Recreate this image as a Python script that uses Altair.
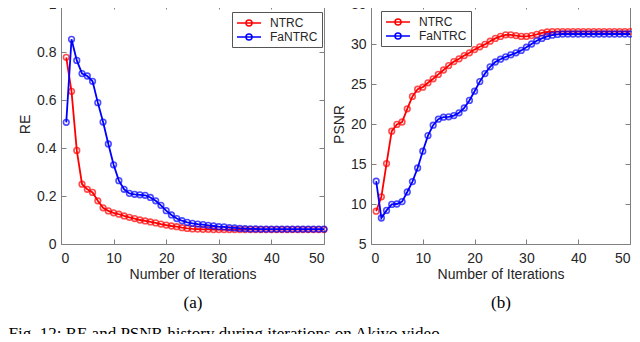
import altair as alt
import pandas as pd

# ---------------- data ----------------
iterations = list(range(1, 51))
methods = ["NTRC", "FaNTRC"]
colors = ["#ff0000", "#0000ff"]

re_ntrc = [0.778, 0.636, 0.390, 0.249, 0.228, 0.215, 0.180, 0.151, 0.138, 0.130,
           0.124, 0.117, 0.111, 0.106, 0.100, 0.096, 0.092, 0.088, 0.083, 0.079,
           0.075, 0.072, 0.068, 0.065, 0.063, 0.062, 0.061, 0.061, 0.060, 0.060,
           0.060, 0.060, 0.060, 0.060, 0.060, 0.060, 0.060, 0.060, 0.060, 0.060,
           0.060, 0.060, 0.060, 0.060, 0.060, 0.060, 0.060, 0.060, 0.060, 0.060]
re_fantrc = [0.507, 0.853, 0.765, 0.710, 0.700, 0.678, 0.589, 0.508, 0.417, 0.330,
             0.264, 0.228, 0.211, 0.207, 0.205, 0.203, 0.194, 0.180, 0.161, 0.139,
             0.121, 0.106, 0.097, 0.090, 0.086, 0.083, 0.081, 0.078, 0.075, 0.072,
             0.071, 0.068, 0.067, 0.065, 0.064, 0.063, 0.063, 0.062, 0.062, 0.062,
             0.062, 0.062, 0.062, 0.062, 0.062, 0.062, 0.062, 0.062, 0.062, 0.062]
psnr_ntrc = [9.10, 10.90, 15.05, 19.10, 19.95, 20.25, 21.90, 23.45, 24.35, 24.60,
             25.15, 25.65, 26.20, 26.75, 27.30, 27.80, 28.15, 28.55, 28.90, 29.30,
             29.65, 29.95, 30.35, 30.70, 30.95, 31.15, 31.15, 31.05, 30.95, 30.95,
             31.05, 31.20, 31.40, 31.50, 31.55, 31.55, 31.55, 31.55, 31.55, 31.55,
             31.55, 31.55, 31.55, 31.55, 31.55, 31.55, 31.55, 31.55, 31.55, 31.55]
psnr_fantrc = [12.85, 8.25, 9.20, 9.95, 10.00, 10.30, 11.50, 12.80, 14.50, 16.60,
               18.55, 19.85, 20.60, 20.85, 20.90, 21.05, 21.40, 22.00, 22.95, 24.10,
               25.30, 26.30, 27.15, 27.75, 28.10, 28.40, 28.65, 28.90, 29.20, 29.60,
               30.00, 30.40, 30.70, 30.95, 31.10, 31.20, 31.25, 31.25, 31.25, 31.25,
               31.25, 31.25, 31.25, 31.25, 31.25, 31.25, 31.25, 31.25, 31.25, 31.25]

x_ticks = [0, 10, 20, 30, 40, 50]
re_ticks = [0, 0.2, 0.4, 0.6, 0.8, 1]
psnr_ticks = [5, 10, 15, 20, 25, 30, 35]

x_title = "Number of Iterations"
fig_caption = "Fig. 12:  RE and PSNR history during iterations on Akiyo video."

# ---------------- style / layout ----------------
FONT = "Liberation Sans"
SERIF = "Liberation Serif"
TOTAL_W, TOTAL_H = 624, 330
PAD_TOP = -4
PH = 240                      # plot height of each panel
AXIS_GRAY = "#808080"
TEXT = "#262626"
LEG_PATH = "M-2,0H2M0.5,0A0.5,0.5,0,1,1,-0.5,0A0.5,0.5,0,1,1,0.5,0"


def frame(a, b):
    return pd.DataFrame({
        "iter": iterations * 2,
        "value": a + b,
        "method": [methods[0]] * len(a) + [methods[1]] * len(b),
    })


def panel(df, ydomain, yticks, yfmt, ytitle, title_x, x0, x1, leg_x, leg_y,
          caption, extra_caption=None):
    xs = alt.Scale(domain=[0, 50], nice=False, zero=False, range=[x0, x1])
    ys = alt.Scale(domain=ydomain, nice=False, zero=False, range=[PH, 0])

    legend = alt.Legend(
        title=None, orient="none", legendX=leg_x, legendY=leg_y,
        symbolType=LEG_PATH, symbolSize=144, symbolOffset=6, symbolStrokeWidth=1.5,
        labelOffset=14, labelFont=FONT, labelFontSize=12, labelColor=TEXT,
        strokeColor="#555555", fillColor="white", padding=4, rowPadding=1,
    )
    cscale = alt.Scale(domain=methods, range=colors)
    color_leg = alt.Color("method:N", scale=cscale, legend=legend)
    color_plain = alt.Color("method:N", scale=cscale, legend=None)

    main_x = alt.X("iter:Q", scale=xs, axis=alt.Axis(
        orient="bottom", offset=PH - TOTAL_H, values=x_ticks, title=x_title,
        ticks=False, tickSize=0, domain=False, grid=False, labelPadding=7,
        titleY=23, titleBaseline="top"))
    main_y = alt.Y("value:Q", scale=ys, axis=alt.Axis(
        orient="left", offset=-x0, values=yticks, format=yfmt, title=ytitle,
        ticks=False, tickSize=0, domain=False, grid=False, labelPadding=5,
        titleX=title_x, titleY=PH / 2, titleBaseline="middle", titleAngle=270))
    plain_x = alt.X("iter:Q", scale=xs, axis=None)
    plain_y = alt.Y("value:Q", scale=ys, axis=None)

    layers = []
    for i, m in enumerate(methods):
        base = alt.Chart(df).transform_filter(alt.datum.method == m)
        layers.append(base.mark_line(strokeWidth=1.8).encode(
            x=main_x if i == 0 else plain_x,
            y=main_y if i == 0 else plain_y,
            color=color_leg if i == 0 else color_plain))
        layers.append(base.mark_point(shape="circle", filled=False, size=32,
                                      strokeWidth=1.6).encode(
            x=plain_x, y=plain_y, color=color_plain))

    def tick_axis(orient, offset, vals):
        return alt.Axis(orient=orient, offset=offset, values=vals, labels=False,
                        domain=True, domainColor=AXIS_GRAY, domainWidth=1,
                        grid=False, ticks=True, tickSize=5,
                        tickColor=AXIS_GRAY, tickWidth=1, title=None)

    # box + inward ticks (bottom/left edges, then top/right edges)
    layers.append(alt.Chart(df).mark_point(opacity=0).encode(
        x=alt.X("iter:Q", scale=xs, axis=tick_axis("top", -PH, x_ticks)),
        y=alt.Y("value:Q", scale=ys, axis=tick_axis("right", x0 - TOTAL_W, yticks))))
    layers.append(alt.Chart(df).mark_point(opacity=0).encode(
        x=alt.X("iter:Q", scale=xs, axis=tick_axis("bottom", -TOTAL_H, x_ticks)),
        y=alt.Y("value:Q", scale=ys, axis=tick_axis("left", -x1, yticks))))

    # sub-figure caption "(a)" / "(b)"
    layers.append(alt.Chart(df).mark_point(opacity=0).encode(
        x=alt.X("iter:Q", scale=xs, axis=alt.Axis(
            orient="bottom", offset=PH - TOTAL_H, labels=False, ticks=False,
            domain=False, grid=False, title=caption, titleFont=SERIF,
            titleFontSize=17, titleColor="black", titleY=50,
            titleBaseline="top")),
        y=plain_y))

    if extra_caption is not None:
        layers.append(alt.Chart(df).mark_point(opacity=0).encode(
            x=alt.X("iter:Q", scale=xs, axis=alt.Axis(
                orient="bottom", offset=PH - TOTAL_H, labels=False, ticks=False,
                domain=False, grid=False, title=extra_caption, titleFont=SERIF,
                titleFontSize=17, titleColor="black", titleX=0, titleY=81,
                titleAlign="left", titleBaseline="top", titleLimit=1000)),
            y=plain_y))
    return layers


left_layers = panel(frame(re_ntrc, re_fantrc), [0, 1], re_ticks, ".1~f", "RE",
                    -36, 53, 316, 224, 8, "(a)", fig_caption)
right_layers = panel(frame(psnr_ntrc, psnr_fantrc), [5, 35], psnr_ticks, "d", "PSNR",
                     -32, 363, 622, 373, 7, "(b)")

chart = alt.layer(*left_layers, *right_layers).resolve_scale(
    x="independent", y="independent", color="independent"
).resolve_axis(
    x="independent", y="independent"
).resolve_legend(
    color="independent"
).properties(
    width=TOTAL_W, height=TOTAL_H,
    autosize=alt.AutoSizeParams(type="none"),
    padding={"left": 0, "top": PAD_TOP, "right": 0, "bottom": 0},
).configure_view(
    stroke="transparent"
).configure_axis(
    labelFont=FONT, labelFontSize=14, labelColor=TEXT,
    titleFont=FONT, titleFontSize=14, titleFontWeight="normal", titleColor=TEXT,
)

chart.save("out.html", embed_options={"renderer": "svg", "actions": False})
